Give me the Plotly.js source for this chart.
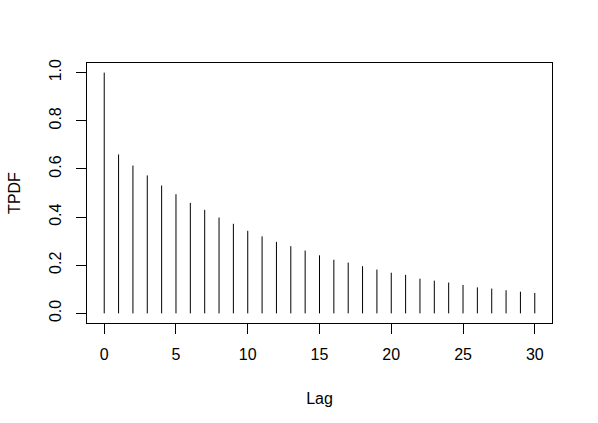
<!DOCTYPE html>
<html>
<head>
<meta charset="utf-8">
<script src="https://cdn.plot.ly/plotly-3.0.1.min.js"></script>
<style>
  html, body { margin: 0; padding: 0; background: #fff; }
  #plot { width: 598px; height: 423px; }
</style>
</head>
<body>
<div id="plot"></div>
<script>
// Lags and TPDF values
const lags = [0, 1, 2, 3, 4, 5, 6, 7, 8, 9, 10, 11, 12, 13, 14, 15,
              16, 17, 18, 19, 20, 21, 22, 23, 24, 25, 26, 27, 28, 29, 30];
const tpdf = [1.000, 0.660, 0.614, 0.573, 0.531, 0.495, 0.459, 0.430, 0.398, 0.372,
              0.343, 0.320, 0.297, 0.279, 0.261, 0.241, 0.223, 0.211, 0.196, 0.182,
              0.169, 0.160, 0.144, 0.136, 0.128, 0.118, 0.108, 0.103, 0.096, 0.090, 0.085];
const xTicks = [0, 5, 10, 15, 20, 25, 30];
const yTicks = [0, 0.2, 0.4, 0.6, 0.8, 1.0];

// type="h" style: one vertical segment from 0 to the value at each lag
const segX = [];
const segY = [];
lags.forEach((lag, i) => {
    segX.push(lag, lag, null);
    segY.push(0, tpdf[i], null);
});

const trace = {
    x: segX,
    y: segY,
    mode: 'lines',
    type: 'scatter',
    line: { color: '#000', width: 1 },
    hoverinfo: 'skip',
    showlegend: false
};

const fontFamily = '"Liberation Sans", Arial, sans-serif';

const layout = {
    width: 598,
    height: 423,
    paper_bgcolor: '#fff',
    plot_bgcolor: '#fff',
    margin: { l: 87, r: 46, t: 63, b: 100 },
    font: { family: fontFamily, size: 16, color: '#000' },
    xaxis: {
        range: [-1.2, 31.2],
        tickvals: xTicks,
        ticktext: xTicks.map(String),
        ticks: 'outside',
        ticklen: 10,
        tickwidth: 1,
        tickcolor: '#000',
        ticklabelstandoff: 7,
        showline: true,
        mirror: true,
        linecolor: '#000',
        linewidth: 1,
        showgrid: false,
        zeroline: false,
        title: { text: 'Lag', standoff: 30, font: { size: 16 } }
    },
    yaxis: {
        range: [-0.04, 1.04],
        tickvals: yTicks,
        ticktext: yTicks.map(v => v.toFixed(1)),
        tickangle: -90,
        ticks: 'outside',
        ticklen: 10,
        tickwidth: 1,
        tickcolor: '#000',
        ticklabelstandoff: 9,
        showline: true,
        mirror: true,
        linecolor: '#000',
        linewidth: 1,
        showgrid: false,
        zeroline: false,
        title: { text: 'TPDF', standoff: 21, font: { size: 16 } }
    }
};

Plotly.newPlot('plot', [trace], layout, { displayModeBar: false, staticPlot: true });
</script>
</body>
</html>
